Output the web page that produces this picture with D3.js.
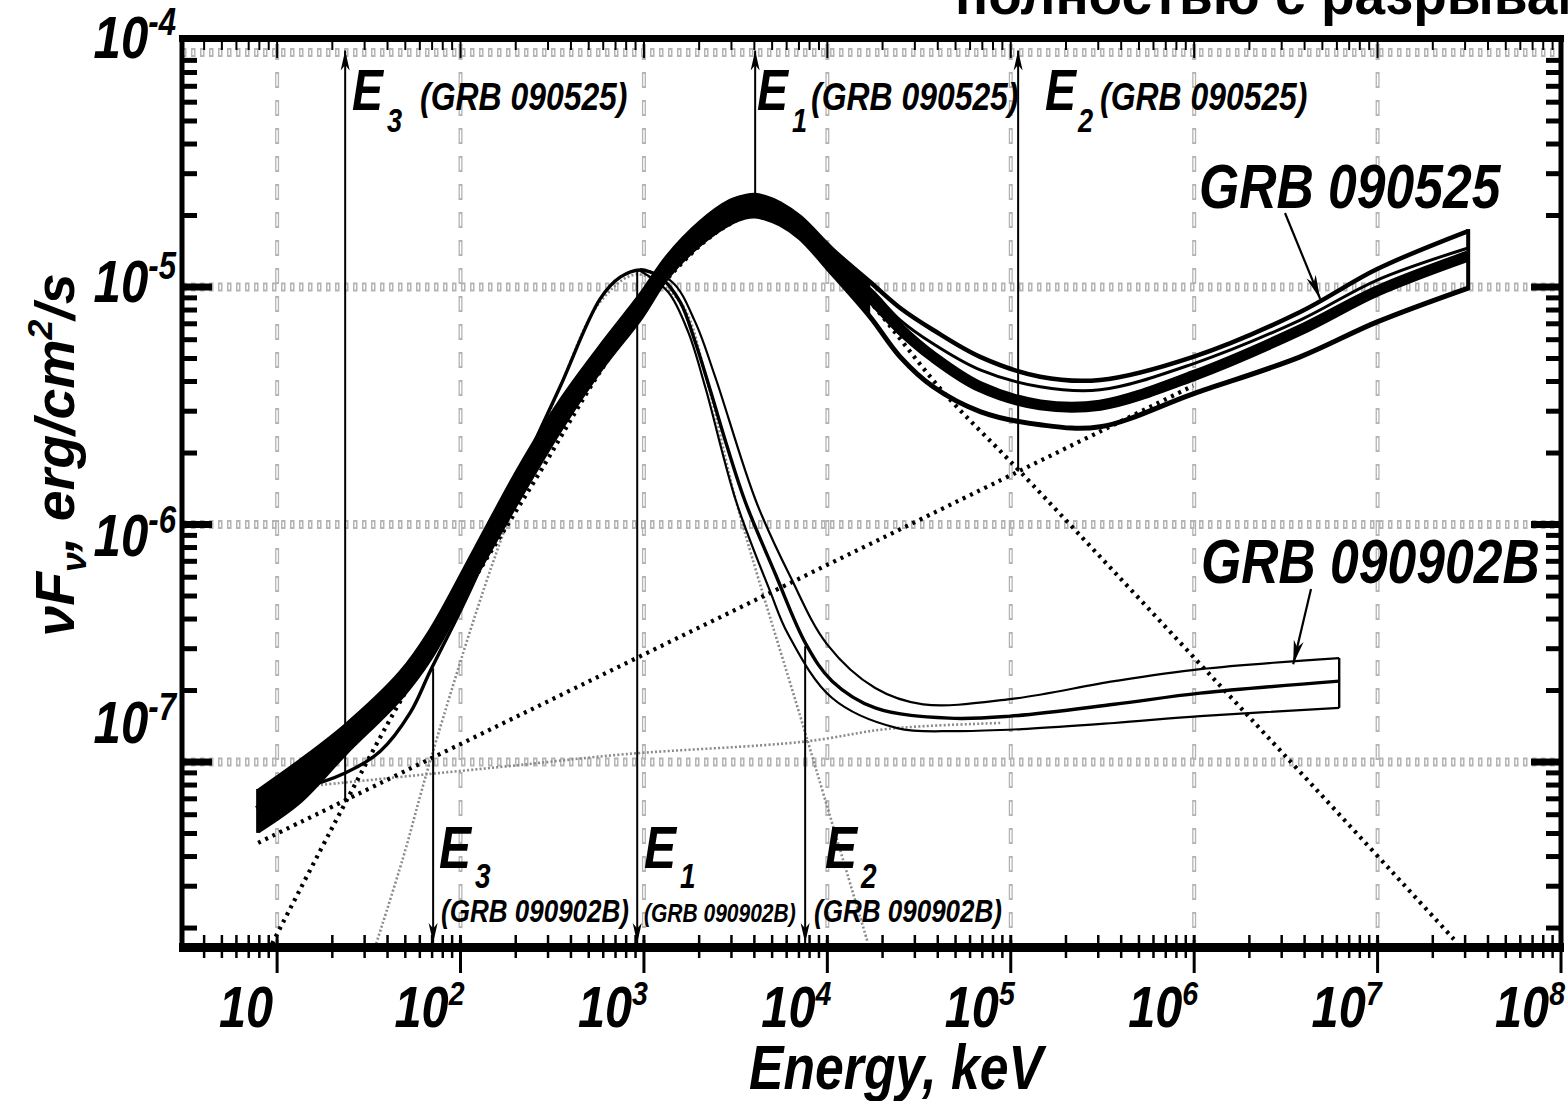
<!DOCTYPE html>
<html><head><meta charset="utf-8">
<script src="https://cdn.jsdelivr.net/npm/d3@7"></script>
<style>html,body{margin:0;padding:0;background:#fff;}svg{display:block;}</style>
</head><body>
<svg id="c" width="1568" height="1101"></svg>
<script>
// ---------- data (keV, erg/cm^2/s) ----------
const xTickValues = [10, 1e2, 1e3, 1e4, 1e5, 1e6, 1e7, 1e8];
const xTickExponents = ["", "2", "3", "4", "5", "6", "7", "8"];
const yTickValues = [1e-4, 1e-5, 1e-6, 1e-7];
const yTickExponents = ["-4", "-5", "-6", "-7"];

const energy090525 = [7.88,13.35,23.5,46.9,68.3,120,211,349,577,966,1338,2026,2951,3563,4040,4581,5530,7107,10760,17120,24950,37760,68080,144600,307200,987400,3.784e6,9.95e6,3.118e7];
const upper090525  = [7.55e-8,1.01e-7,1.42e-7,2.37e-7,3.55e-7,7.85e-7,1.75e-6,3.29e-6,5.60e-6,9.35e-6,1.34e-5,1.87e-5,2.30e-5,2.41e-5,2.44e-5,2.39e-5,2.25e-5,1.97e-5,1.43e-5,1.05e-5,8.16e-6,6.59e-6,5.08e-6,4.19e-6,4.06e-6,5.08e-6,7.85e-6,1.19e-5,1.72e-5];
const center090525 = [6.22e-8,8.32e-8,1.25e-7,2.11e-7,3.13e-7,6.92e-7,1.52e-6,2.84e-6,4.98e-6,8.40e-6,1.21e-5,1.69e-5,2.07e-5,2.17e-5,2.20e-5,2.17e-5,2.05e-5,1.79e-5,1.30e-5,9.08e-6,6.66e-6,5.08e-6,3.80e-6,3.19e-6,3.18e-6,4.23e-6,6.59e-6,9.62e-6,1.35e-5];
const lower090525  = [5.13e-8,6.86e-8,1.09e-7,1.86e-7,2.74e-7,6.05e-7,1.31e-6,2.51e-6,4.48e-6,7.48e-6,1.10e-5,1.52e-5,1.86e-5,1.97e-5,1.99e-5,1.95e-5,1.84e-5,1.61e-5,1.13e-5,7.48e-6,5.08e-6,3.80e-6,2.99e-6,2.63e-6,2.58e-6,3.55e-6,5.08e-6,7.13e-6,9.90e-6];
const innerEnergy090525 = [10760,17120,24950,37760,68080,144600,307200,987400,3.784e6,9.95e6,3.118e7];
const inner090525 = [1.30e-5,9.81e-6,7.26e-6,5.77e-6,4.48e-6,3.80e-6,3.69e-6,4.75e-6,7.26e-6,1.07e-5,1.46e-5];

const center090902B = [[7.88,7.41e-8],[13.35,7.78e-8],[23.5,8.99e-8],[36.5,1.11e-7],[53.1,1.61e-7],[68.3,2.41e-7],[99.5,4.31e-7],[133,7.00e-7],[164,1.03e-6],[240,2.03e-6],[349,3.80e-6],[577,8.91e-6],[742,1.10e-5],[953,1.18e-5],[1225,1.10e-5],[1575,8.65e-6],[1902,5.88e-6],[2296,3.69e-6],[2842,2.13e-6],[3563,1.25e-6],[5193,6.22e-7],[7657,3.13e-7],[10620,2.19e-7],[18230,1.69e-7],[46150,1.53e-7],[99240,1.56e-7],[366400,1.75e-7],[1.078e6,1.95e-7],[6.176e6,2.19e-7]];
const upper090902B = [[953,1.19e-5],[1425,1.05e-5],[1902,7.13e-6],[2445,4.19e-6],[4090,1.25e-6],[6270,6.05e-7],[9970,3.13e-7],[18230,2.05e-7],[33300,1.75e-7],[99240,1.84e-7],[366400,2.19e-7],[1.078e6,2.46e-7],[6.176e6,2.74e-7]];
const lower090902B = [[953,1.17e-5],[1355,9.53e-6],[1742,6.47e-6],[2157,3.80e-6],[3184,1.25e-6],[4876,5.23e-7],[6113,3.45e-7],[10620,1.86e-7],[24030,1.39e-7],[51030,1.35e-7],[122900,1.38e-7],[366400,1.46e-7],[1.078e6,1.56e-7],[6.176e6,1.69e-7]];

const plComp090525   = [[7.88,4.57e-8],[109700,1.67e-6],[987400,3.84e-6]];
const bandComp090525 = [[9.39,1.72e-8],[22.3,6.22e-8],[46.9,1.80e-7],[123,6.17e-7],[272,1.67e-6],[577,4.40e-6],[1225,1.0e-5],[2604,1.74e-5],[4302,2.03e-5],[8054,1.62e-5],[17120,8.65e-6],[42790,3.62e-6],[112500,1.67e-6],[3.214e6,1.04e-7],[2.648e7,1.77e-8]];
const plComp090902B   = [[7.88,7.55e-8],[22.05,8.16e-8],[68.3,8.91e-8],[186,9.62e-8],[800,1.08e-7],[7568,1.22e-7],[21460,1.38e-7],[87530,1.46e-7]];
const bandComp090902B = [[34.7,1.72e-8],[48.6,3.95e-8],[68.3,1.01e-7],[151,7.00e-7],[349,3.80e-6],[577,8.65e-6],[919,1.13e-5],[1575,8.65e-6],[2212,3.99e-6],[3184,1.25e-6],[7657,1.29e-7],[16490,1.77e-8]];

const breakNames = ["E3","E1","E2","E3","E1","E2"];
const breakGrb   = ["GRB 090525","GRB 090525","GRB 090525","GRB 090902B","GRB 090902B","GRB 090902B"];
const breakEnergy = [23.5, 4040, 109700, 70.9, 919, 7568];
const breakFlux   = [6.86e-8, 2.44e-5, 1.67e-6, 2.48e-7, 1.18e-5, 3.07e-7];

const grbLabels = ["GRB 090525", "GRB 090902B"];
const grbArrowTips = [[4.864e6, 8.91e-6], [3.467e6, 2.58e-7]];

// ---------- setup ----------
const FONT = "'Liberation Sans', Arial, Helvetica, sans-serif";
const svg = d3.select("#c");
svg.append("rect").attr("width",1568).attr("height",1101).attr("fill","#fff");
const x = d3.scaleLog().domain([3.03, 1e8]).range([182, 1561]);
const y = d3.scaleLog().domain([1.73e-8, 1e-4]).range([943, 49.5]);
const L = 182, R = 1561, T = 38.5, B = 947.5;

svg.append("clipPath").attr("id","plot").append("rect")
  .attr("x", L).attr("y", 42).attr("width", R - L).attr("height", 943 - 42);

const line = d3.line().x(d => x(d[0])).y(d => y(d[1])).curve(d3.curveCatmullRom.alpha(0.5));

function txt(parent, px, py, parts, size, opts = {}) {
  const g = parent.append("g").attr("transform",
    `translate(${px},${py})` + (opts.rotate ? ` rotate(${opts.rotate})` : "") + ` scale(${opts.sx ?? 0.8},1)`);
  const t = g.append("text").attr("text-anchor", opts.anchor || "start")
    .attr("font-family", FONT).attr("font-weight", "bold")
    .attr("font-style", opts.upright ? "normal" : "italic")
    .attr("font-size", size).attr("fill", "#000");
  if (typeof parts === "string") parts = [{t: parts}];
  let cur = 0;
  parts.forEach(p => {
    const sh = p.shift || 0;
    t.append("tspan").attr("font-size", p.size || size).attr("dy", sh - cur).text(p.t);
    cur = sh;
  });
  return t;
}
function arrowHead(parent, tx, ty, dx, dy, len, hw) {
  const n = Math.hypot(dx, dy); dx /= n; dy /= n;
  const bx = tx - len * dx, by = ty - len * dy, px = -dy, py = dx;
  const nx = tx - 0.72 * len * dx, ny = ty - 0.72 * len * dy;
  parent.append("path").attr("d",
    `M${tx},${ty}L${bx + hw * px},${by + hw * py}L${nx},${ny}L${bx - hw * px},${by - hw * py}Z`)
    .attr("fill", "#000");
}

// ---------- grid ----------
const grid = svg.append("g");
xTickValues.filter(v => v < 1e8).forEach(v => {
  grid.append("line").attr("x1", x(v)).attr("x2", x(v)).attr("y1", 44).attr("y2", 943)
    .attr("stroke", "#b4b4b4").attr("stroke-width", 4).attr("stroke-dasharray", "16,12");
  grid.append("line").attr("x1", x(v)).attr("x2", x(v)).attr("y1", 44).attr("y2", 943)
    .attr("stroke", "#fff").attr("stroke-width", 1.4).attr("stroke-dasharray", "12,16")
    .attr("stroke-dashoffset", -2);
});
yTickValues.forEach(v => {
  const yy = y(v) + (v === 1e-4 ? 3 : 0);
  grid.append("line").attr("x1", L).attr("x2", R).attr("y1", yy).attr("y2", yy)
    .attr("stroke", "#b4b4b4").attr("stroke-width", 9).attr("stroke-dasharray", "4.5,4.5");
  grid.append("line").attr("x1", L).attr("x2", R).attr("y1", yy).attr("y2", yy)
    .attr("stroke", "#fff").attr("stroke-width", 5).attr("stroke-dasharray", "1.5,7.5")
    .attr("stroke-dashoffset", -1.5);
});

const plot = svg.append("g").attr("clip-path", "url(#plot)");

// ---------- model components (dotted) ----------
[plComp090902B, bandComp090902B].forEach(d =>
  plot.append("path").attr("d", line(d)).attr("fill", "none")
    .attr("stroke", "#8a8a8a").attr("stroke-width", 2.6).attr("stroke-dasharray", "2,2.2"));
[plComp090525, bandComp090525].forEach(d =>
  plot.append("path").attr("d", line(d)).attr("fill", "none")
    .attr("stroke", "#000").attr("stroke-width", 4.2).attr("stroke-dasharray", "3,5"));

// ---------- characteristic energies ----------
const ann = svg.append("g");
breakEnergy.forEach((E, i) => {
  const xx = x(E), up = i < 3;
  const yEnd = up ? y(1e-4) + 1 : 943;
  ann.append("line").attr("x1", xx).attr("x2", xx).attr("y1", y(breakFlux[i])).attr("y2", yEnd)
    .attr("stroke", "#000").attr("stroke-width", 2);
  arrowHead(ann, xx, yEnd, 0, up ? -1 : 1, 20, 4.5);
});

// ---------- GRB 090902B ----------
plot.append("path").attr("d", line(center090902B)).attr("fill", "none")
  .attr("stroke", "#000").attr("stroke-width", 3.4).attr("stroke-linejoin", "round");
[upper090902B, lower090902B].forEach(d =>
  plot.append("path").attr("d", line(d)).attr("fill", "none")
    .attr("stroke", "#000").attr("stroke-width", 2.2));
{
  const u = upper090902B[upper090902B.length - 1], l = lower090902B[lower090902B.length - 1];
  plot.append("line").attr("x1", x(u[0])).attr("x2", x(l[0])).attr("y1", y(u[1])).attr("y2", y(l[1]))
    .attr("stroke", "#000").attr("stroke-width", 2.4);
}

// ---------- GRB 090525 ----------
const upPts = energy090525.map((e, i) => [e, upper090525[i]]);
const loPts = energy090525.map((e, i) => [e, lower090525[i]]);
const cePts = energy090525.map((e, i) => [e, center090525[i]]);
const inPts = innerEnergy090525.map((e, i) => [e, inner090525[i]]);
const solid = energy090525.map((e, i) => ({e, u: upper090525[i], l: lower090525[i]})).filter(d => d.e <= 17200);
plot.append("path").attr("d", d3.area().x(d => x(d.e)).y0(d => y(d.l)).y1(d => y(d.u))
  .curve(d3.curveCatmullRom.alpha(0.5))(solid)).attr("fill", "#000");
plot.append("path").attr("d", line(upPts)).attr("fill", "none").attr("stroke", "#000").attr("stroke-width", 4.5);
plot.append("path").attr("d", line(inPts)).attr("fill", "none").attr("stroke", "#000").attr("stroke-width", 3);
plot.append("path").attr("d", line(cePts)).attr("fill", "none").attr("stroke", "#000").attr("stroke-width", 11);
plot.append("path").attr("d", line(loPts)).attr("fill", "none").attr("stroke", "#000").attr("stroke-width", 5);
[0, energy090525.length - 1].forEach(i => {
  plot.append("line").attr("x1", x(energy090525[i])).attr("x2", x(energy090525[i]))
    .attr("y1", y(upper090525[i]) - 2).attr("y2", y(lower090525[i]) + 2)
    .attr("stroke", "#000").attr("stroke-width", 4);
});

// ---------- frame & ticks ----------
const ax = svg.append("g");
const yMinor = [], xMinor = [];
for (let n = -8; n <= -5; n++) for (let k = 1; k <= 9; k++) {
  const v = k * Math.pow(10, n); if (v > 1.73e-8 && v < 1e-4) yMinor.push([v, k === 1]);
}
for (let n = 0; n <= 7; n++) for (let k = 1; k <= 9; k++) {
  const v = k * Math.pow(10, n); if (v > 3.03 && v <= 1e8) xMinor.push([v, k === 1]);
}
xMinor.push([1e8, true]);
yMinor.forEach(([v, maj]) => {
  const yy = y(v), len = maj ? 30 : 15, w = maj ? 7 : 5;
  ax.append("line").attr("x1", L).attr("x2", L + len).attr("y1", yy).attr("y2", yy).attr("stroke", "#000").attr("stroke-width", w);
  ax.append("line").attr("x1", R).attr("x2", R - len).attr("y1", yy).attr("y2", yy).attr("stroke", "#000").attr("stroke-width", w);
});
xMinor.forEach(([v, maj]) => {
  const xx = x(v);
  ax.append("line").attr("x1", xx).attr("x2", xx).attr("y1", 935).attr("y2", maj ? 973 : 958)
    .attr("stroke", "#000").attr("stroke-width", maj ? 3 : 2.5);
  ax.append("line").attr("x1", xx).attr("x2", xx).attr("y1", T).attr("y2", maj ? 58 : 50)
    .attr("stroke", "#000").attr("stroke-width", 2);
});
ax.append("line").attr("x1", L - 3).attr("x2", R + 3).attr("y1", T).attr("y2", T).attr("stroke", "#000").attr("stroke-width", 7);
ax.append("line").attr("x1", L - 3).attr("x2", R + 3).attr("y1", B).attr("y2", B).attr("stroke", "#000").attr("stroke-width", 9);
ax.append("line").attr("x1", L).attr("x2", L).attr("y1", T - 3).attr("y2", B + 4).attr("stroke", "#000").attr("stroke-width", 5);
ax.append("line").attr("x1", R).attr("x2", R).attr("y1", T - 3).attr("y2", B + 4).attr("stroke", "#000").attr("stroke-width", 5);

// ---------- tick labels ----------
const lab = svg.append("g");
xTickValues.forEach((v, i) => {
  const parts = [{t: "10", size: 58}];
  if (xTickExponents[i]) parts.push({t: xTickExponents[i], size: 34, shift: -22});
  txt(lab, x(v) - 31, 1027, parts, 58, {anchor: "middle", sx: 0.84});
});
const yNudge = {"-4": 8, "-5": 15, "-6": 31, "-7": -19};
yTickValues.forEach((v, i) => {
  txt(lab, 176, y(v) + yNudge[yTickExponents[i]],
    [{t: "10", size: 60}, {t: yTickExponents[i], size: 38, shift: -23}], 60, {anchor: "end", sx: 0.82});
});

// ---------- axis titles ----------
txt(lab, 896, 1089, "Energy, keV", 63, {anchor: "middle", sx: 0.82});
txt(lab, 74, 455, [{t: "\u03BDF", size: 56}, {t: "\u03BD", size: 36, shift: 12}, {t: ",  erg/cm", size: 56, shift: 0},
  {t: "2", size: 36, shift: -22}, {t: "/s", size: 56, shift: 0}], 56, {anchor: "middle", rotate: -90, sx: 0.99});

// ---------- annotations ----------
const topAnn = [[352, 387, 420], [757, 792, 811], [1045, 1078, 1100]];
[0, 1, 2].forEach(i => {
  const [ex, sx_, gx] = topAnn[i];
  txt(lab, ex, 110, "E", 58);
  txt(lab, sx_, 132, breakNames[i].slice(1), 34);
  txt(lab, gx, 110, "(" + breakGrb[i] + ")", 38, {sx: 0.84});
});
const botAnn = [[439, 475, 441, 31], [644, 680, 644, 25], [825, 861, 814, 31]];
[3, 4, 5].forEach((i, j) => {
  const [ex, sx_, gx, gs] = botAnn[j];
  txt(lab, ex, 868, "E", 60);
  txt(lab, sx_, 888, breakNames[i].slice(1), 35);
  txt(lab, gx, 922, "(" + breakGrb[i] + ")", gs, {sx: 0.84});
});

// big GRB labels with arrows
const grbLabelPos = [[1199, 208, 1285, 213], [1201, 583, 1311, 589]];
grbLabels.forEach((s, i) => {
  const [lx, ly, ax0, ay0] = grbLabelPos[i];
  txt(lab, lx, ly, s, 63, {sx: 0.82});
  const tx = x(grbArrowTips[i][0]), ty = y(grbArrowTips[i][1]);
  lab.append("line").attr("x1", ax0).attr("y1", ay0).attr("x2", tx).attr("y2", ty)
    .attr("stroke", "#000").attr("stroke-width", 2.2);
  arrowHead(lab, tx, ty, tx - ax0, ty - ay0, 24, 5);
});

// cropped caption fragment at the top edge
txt(lab, 955, 14, "полностью с разрывами", 55, {upright: true, sx: 1});
</script>
</body></html>
